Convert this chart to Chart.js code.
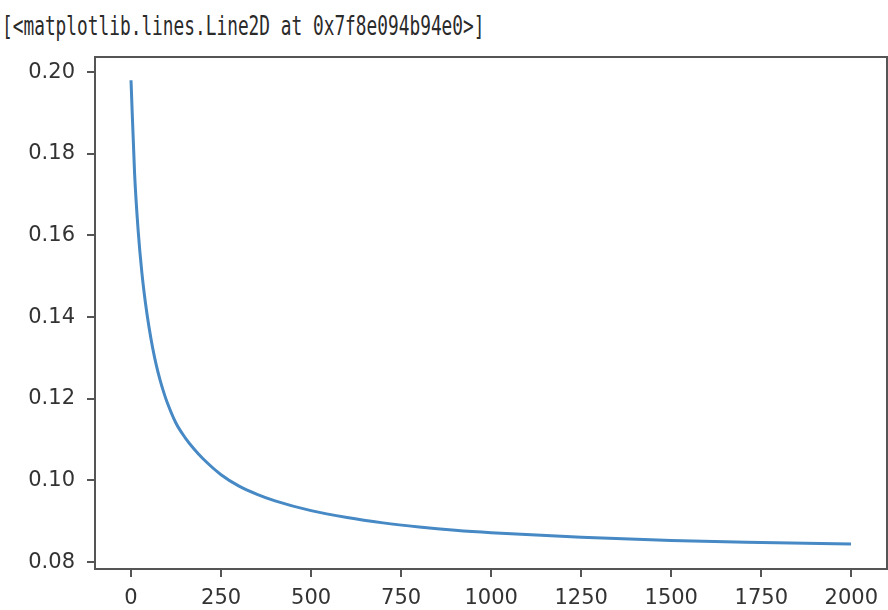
<!DOCTYPE html>
<html lang="en">
<head>
    <meta charset="UTF-8">
    <title>Loss curve</title>
    <script src="https://cdn.jsdelivr.net/npm/chart.js"></script>
    <style>
        body { margin: 0; background: #fff; }
        #wrap { position: relative; width: 888px; height: 610px; overflow: hidden; }
        #out {
            position: absolute; left: 2px; top: 11px;
            font-family: "DejaVu Sans Mono", monospace; font-size: 26px; color: #2a2a2a;
            white-space: pre; transform: scaleX(0.685); transform-origin: left top;
        }
        canvas { position: absolute; left: 0; top: 0; }
    </style>
</head>
<body>
<div id="wrap">
    <div id="out">[&lt;matplotlib.lines.Line2D at 0x7f8e094b94e0&gt;]</div>
    <canvas id="lossChart" width="888" height="610"></canvas>
</div>

<script>
    // values
    var steps = [0, 10, 20, 30, 40, 50, 60, 70, 80, 90, 100, 125, 150, 175, 200, 250, 300, 350, 400, 500, 600, 700, 800, 900, 1000, 1250, 1500, 1750, 1999];
    var loss = [0.198, 0.175, 0.161, 0.151, 0.1435, 0.1375, 0.1325, 0.1283, 0.1248, 0.1218, 0.1192, 0.1140, 0.1105, 0.1077, 0.1053, 0.1014, 0.0986, 0.0966, 0.0950, 0.0926, 0.0909, 0.0896, 0.0886, 0.0878, 0.0872, 0.0861, 0.0853, 0.0848, 0.0844];
    var xTicks = [0, 250, 500, 750, 1000, 1250, 1500, 1750, 2000];
    var yTicks = [0.08, 0.10, 0.12, 0.14, 0.16, 0.18, 0.20];

    var axisColor = '#555';

    // top and right spines
    var frame = {
        id: 'frame',
        afterDraw: function (chart) {
            var a = chart.chartArea, ctx = chart.ctx;
            ctx.save();
            ctx.strokeStyle = axisColor;
            ctx.lineWidth = 2;
            ctx.strokeRect(a.left, a.top, a.right - a.left, a.bottom - a.top);
            ctx.restore();
        }
    };

    var ctx = document.getElementById('lossChart').getContext('2d');
    new Chart(ctx, {
        type: 'line',
        data: {
            datasets: [{
                data: steps.map(function (s, i) { return { x: s, y: loss[i] }; }),
                borderColor: '#4689c4',
                borderWidth: 3,
                pointRadius: 0,
                fill: false,
                cubicInterpolationMode: 'monotone'
            }]
        },
        options: {
            responsive: false,
            animation: false,
            layout: { padding: { top: 57, right: 1, left: 0, bottom: 0 } },
            plugins: { legend: { display: false }, tooltip: { enabled: false } },
            scales: {
                x: {
                    type: 'linear',
                    min: -100,
                    max: 2099,
                    afterBuildTicks: function (scale) {
                        scale.ticks = xTicks.map(function (v) { return { value: v }; });
                    },
                    afterFit: function (scale) { scale.height = 41; },
                    ticks: {
                        color: '#333',
                        padding: 9,
                        maxRotation: 0,
                        autoSkip: false,
                        font: { family: 'DejaVu Sans', size: 21 },
                        callback: function (v) { return String(v); }
                    },
                    grid: { drawOnChartArea: false, tickLength: 8, color: axisColor, lineWidth: 2 },
                    border: { color: axisColor, width: 2 }
                },
                y: {
                    min: 0.0783,
                    max: 0.2037,
                    afterBuildTicks: function (scale) {
                        scale.ticks = yTicks.map(function (v) { return { value: v }; });
                    },
                    afterFit: function (scale) { scale.width = 95; },
                    ticks: {
                        color: '#333',
                        padding: 12,
                        autoSkip: false,
                        font: { family: 'DejaVu Sans', size: 21 },
                        callback: function (v) { return v.toFixed(2); }
                    },
                    grid: { drawOnChartArea: false, tickLength: 8, color: axisColor, lineWidth: 2 },
                    border: { color: axisColor, width: 2 }
                }
            }
        },
        plugins: [frame]
    });
</script>
</body>
</html>
